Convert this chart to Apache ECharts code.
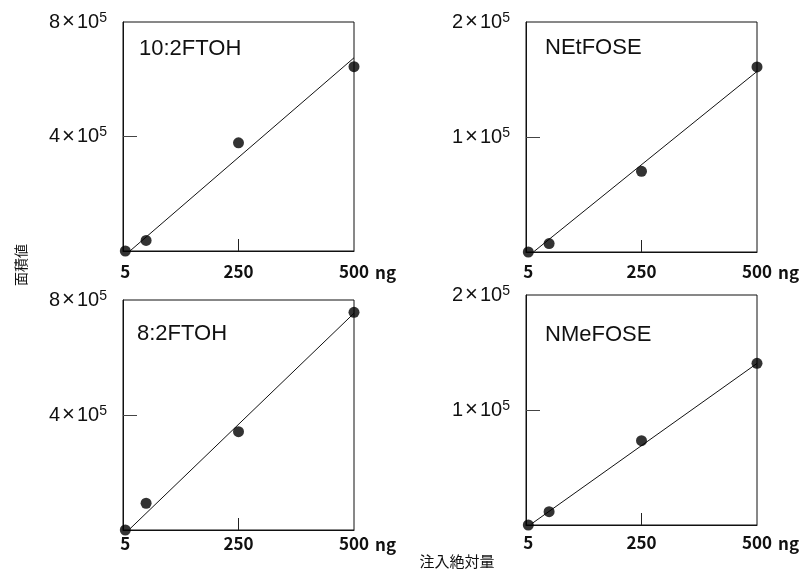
<!DOCTYPE html>
<html>
<head>
<meta charset="utf-8">
<script src="https://cdn.jsdelivr.net/npm/echarts@6/dist/echarts.min.js"></script>
<style>
  html, body { margin: 0; padding: 0; background: #fff; }
  #chart { width: 802px; height: 570px; }
</style>
</head>
<body>
<div id="chart"></div>
<script>
// Injected amount (ng) for each calibration point
const doses = [5, 50, 250, 500];

// Peak areas per compound
const ftoh102 = [0, 37000, 378000, 644000];
const netfose = [0, 7300, 70200, 160900];
const ftoh82 = [0, 93000, 342000, 757000];
const nmefose = [0, 11600, 73300, 140600];

// Calibration line end points [ng, area]
const fit102 = [[15, 0], [500, 675000]];
const fitNet = [[16, 0], [500, 157000]];
const fit82 = [[15, 4000], [500, 754000]];
const fitNme = [[12, 1000], [500, 140500]];

// Axis tick labels
const xTicks = [5, 250, 500];
const yMaxLarge = 8e5;
const yMaxSmall = 2e5;

const JP = '"Noto Sans CJK JP", "Noto Sans", sans-serif';
const LATIN = '"Liberation Sans", Arial, sans-serif';

const panels = [
  { name: '10:2FTOH', values: ftoh102, fit: fit102, yMax: yMaxLarge,
    box: { left: 123, top: 22, width: 231, height: 229 }, xMargin: 12, title: [139, 38] },
  { name: 'NEtFOSE', values: netfose, fit: fitNet, yMax: yMaxSmall,
    box: { left: 526, top: 22, width: 231, height: 230 }, xMargin: 11, title: [545, 37] },
  { name: '8:2FTOH', values: ftoh82, fit: fit82, yMax: yMaxLarge,
    box: { left: 123, top: 300, width: 231, height: 230 }, xMargin: 5, title: [137, 323] },
  { name: 'NMeFOSE', values: nmefose, fit: fitNme, yMax: yMaxSmall,
    box: { left: 526, top: 295, width: 231, height: 230 }, xMargin: 9, title: [545, 324] }
];

// "n × 10^5" written with a raised exponent
function yLabel(v) {
  const mant = v / 1e5;
  return '{m|' + mant + '}{x|×}{m|10}{s|5}';
}

const grid = [], xAxis = [], yAxis = [], series = [], title = [];

panels.forEach((p, i) => {
  grid.push(Object.assign({
    show: true, borderColor: '#111', borderWidth: 1, backgroundColor: 'transparent'
  }, p.box));

  xAxis.push({
    type: 'value', gridIndex: i, min: 0, max: 500,
    name: 'ng', nameLocation: 'end', nameGap: 21,
    nameTextStyle: { fontFamily: JP, fontSize: 17, color: '#111', fontWeight: 'bold',
      verticalAlign: 'top', padding: [p.xMargin + 1, 0, 0, 0] },
    axisLine: { show: true, lineStyle: { color: '#111', width: 1 } },
    axisTick: { show: true, inside: true, length: 12, customValues: [250],
      lineStyle: { color: '#222' } },
    axisLabel: { show: true, customValues: xTicks, margin: p.xMargin,
      fontFamily: JP, fontSize: 17, fontWeight: 'bold', color: '#111' },
    splitLine: { show: false }
  });

  yAxis.push({
    type: 'value', gridIndex: i, min: 0, max: p.yMax,
    axisLine: { show: true, lineStyle: { color: '#111', width: 1 } },
    axisTick: { show: true, inside: true, length: 14, customValues: [p.yMax / 2],
      lineStyle: { color: '#444' } },
    axisLabel: { show: true, customValues: [p.yMax / 2, p.yMax], margin: 16,
      fontFamily: LATIN, fontSize: 20, color: '#111',
      formatter: yLabel,
      rich: {
        m: { fontFamily: LATIN, fontSize: 20, color: '#111' },
        x: { fontFamily: LATIN, fontSize: 22, color: '#111', padding: [0, 2, 0, 2] },
        s: { fontFamily: LATIN, fontSize: 14, color: '#111', verticalAlign: 'top' }
      } },
    splitLine: { show: false }
  });

  series.push({
    type: 'line', xAxisIndex: i, yAxisIndex: i, data: p.fit,
    symbol: 'none', lineStyle: { color: '#111', width: 1 }, silent: true, z: 2
  });
  series.push({
    type: 'scatter', xAxisIndex: i, yAxisIndex: i, clip: false,
    data: doses.map((d, k) => [d, p.values[k]]),
    symbol: 'circle', symbolSize: 11, itemStyle: { color: '#000' }, z: 3
  });

  title.push({
    text: p.name, left: p.title[0], top: p.title[1], padding: 0,
    textStyle: { fontFamily: LATIN, fontSize: 22, fontWeight: 'normal', color: '#111' }
  });
});

const chart = echarts.init(document.getElementById('chart'), null, { renderer: 'canvas' });
chart.setOption({
  animation: false,
  backgroundColor: '#fff',
  title: title,
  grid: grid,
  xAxis: xAxis,
  yAxis: yAxis,
  series: series,
  graphic: [
    { type: 'text', x: 21, y: 265, rotation: Math.PI / 2,
      style: { text: '面積値', font: '14px ' + JP, fill: '#111', align: 'center', verticalAlign: 'middle' } },
    { type: 'text', x: 457, y: 561,
      style: { text: '注入絶対量', font: '15px ' + JP, fill: '#111', align: 'center', verticalAlign: 'middle' } }
  ]
});
</script>
</body>
</html>
